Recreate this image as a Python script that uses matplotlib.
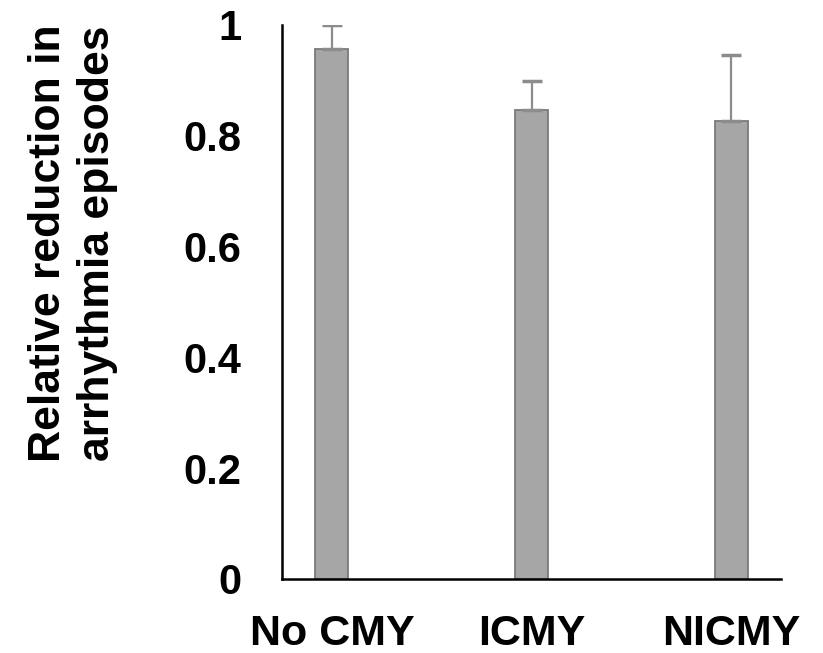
import matplotlib
matplotlib.use("Agg")
import matplotlib.pyplot as plt

categories = ["No CMY", "ICMY", "NICMY"]
values = [0.956, 0.847, 0.827]
errors_up = [0.044, 0.052, 0.119]
yticks = [0, 0.2, 0.4, 0.6, 0.8, 1.0]
ytick_labels = ["0", "0.2", "0.4", "0.6", "0.8", "1"]
ylabel = "Relative reduction in\narrhythmia episodes"

plt.rcParams['font.family'] = ['Liberation Sans', 'DejaVu Sans']
plt.rcParams['font.weight'] = 'bold'

fig = plt.figure(figsize=(8.23, 6.53), dpi=100)
ax = fig.add_axes([282/823, 1-579/653, (781-282)/823, (579-24.7)/653])

x = list(range(len(categories)))
ax.bar(x, values, width=0.165, color='#a6a6a6', edgecolor='#7a7a7a', linewidth=1.3,
       yerr=[[0]*len(values), errors_up], ecolor='#8c8c8c',
       error_kw=dict(elinewidth=1.6, capsize=7, capthick=2.5), zorder=2)

ax.set_xlim(-0.25, 2.25)
ax.set_ylim(0, 1.0)
ax.set_yticks(yticks)
ax.set_yticklabels(ytick_labels, fontsize=30, fontweight='bold')
ax.set_xticks(x)
ax.set_xticklabels(categories, fontsize=31, fontweight='bold')
ax.tick_params(axis='y', length=0, pad=29)
ax.tick_params(axis='x', length=0, pad=25)

for s in ['top', 'right']:
    ax.spines[s].set_visible(False)
for s in ['left', 'bottom']:
    ax.spines[s].set_linewidth(1.8)
    ax.spines[s].set_color('black')

fig.text(73/823, 1-243/653, ylabel, rotation=90, ha='center', va='center',
         fontsize=32, fontweight='bold', multialignment='center', linespacing=1.22)

fig.savefig("out.png", dpi=100)
